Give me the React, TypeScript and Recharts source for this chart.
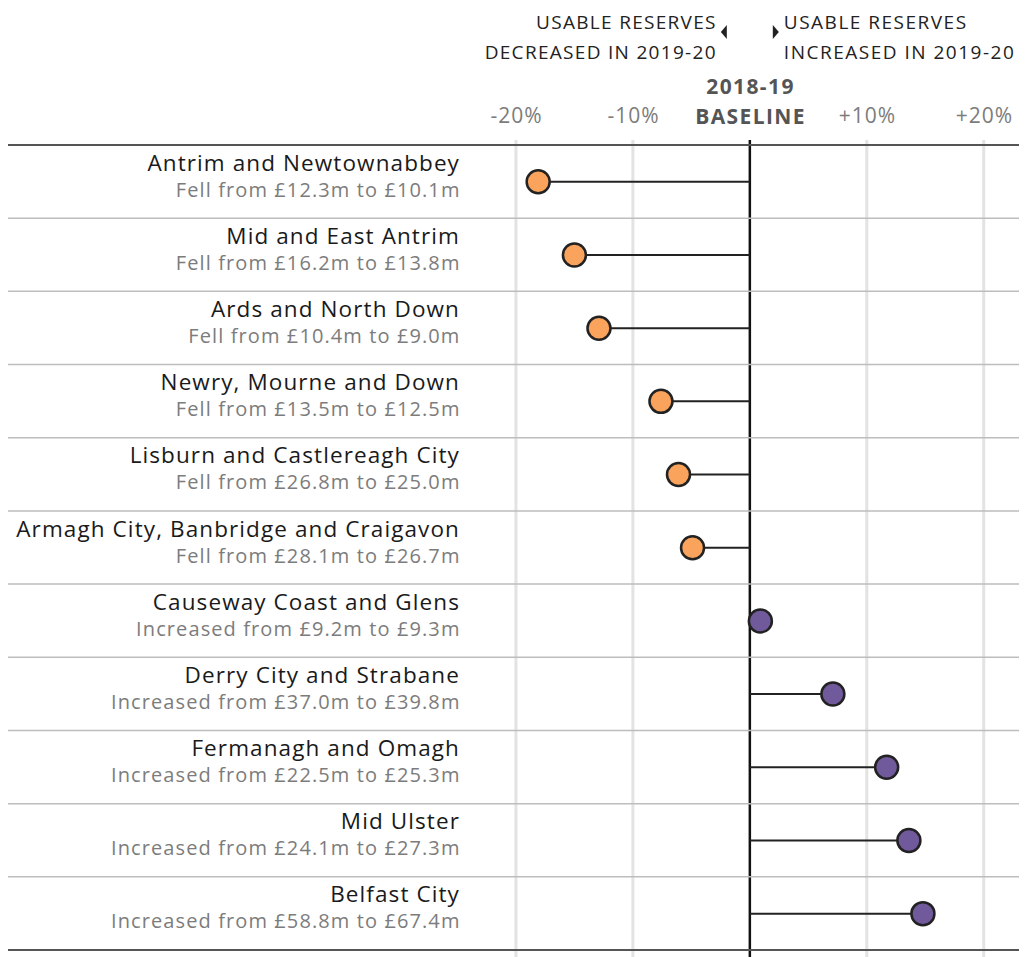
import React from "react"
import {
    ComposedChart,
    Bar,
    XAxis,
    YAxis,
    CartesianGrid
} from "recharts"

const COUNCILS = [
    "Antrim and Newtownabbey",
    "Mid and East Antrim",
    "Ards and North Down",
    "Newry, Mourne and Down",
    "Lisburn and Castlereagh City",
    "Armagh City, Banbridge and Craigavon",
    "Causeway Coast and Glens",
    "Derry City and Strabane",
    "Fermanagh and Omagh",
    "Mid Ulster",
    "Belfast City"
]
const RESERVES_2018 = ["12.3", "16.2", "10.4", "13.5", "26.8", "28.1", "9.2", "37.0", "22.5", "24.1", "58.8"]
const RESERVES_2019 = ["10.1", "13.8", "9.0", "12.5", "25.0", "26.7", "9.3", "39.8", "25.3", "27.3", "67.4"]
// % change vs 2018-19 baseline
const PCT_CHANGE = [-18.1, -15.0, -12.9, -7.6, -6.1, -4.9, 0.9, 7.1, 11.7, 13.6, 14.8]
const X_TICKS = [-20, -10, 0, 10, 20]

const W = 1019
const H = 949
const TOP = 137
const PAD_BOTTOM = 7
const LABEL_W = 460
const ROW_H = (H - TOP - PAD_BOTTOM) / COUNCILS.length

const FONT = "'Open Sans', Lato, sans-serif"
const ORANGE = "#F9A35D"
const PURPLE = "#715A9C"

const data = COUNCILS.map((name, i) => ({
    name,
    from: RESERVES_2018[i],
    to: RESERVES_2019[i],
    change: PCT_CHANGE[i]
}))

function CouncilTick({ y, payload, index }: any) {
    const row = data.find((d) => d.name === payload.value)
    if (!row) return null
    const verb = row.change < 0 ? "Fell from" : "Increased from"
    const top = y - ROW_H / 2
    const bottom = y + ROW_H / 2
    const last = index === COUNCILS.length - 1
    return (
        <g>
            {index === 0 && (
                <line x1={0} x2={W} y1={top} y2={top} stroke="#555" strokeWidth={2} />
            )}
            <line
                x1={0}
                x2={W}
                y1={bottom}
                y2={bottom}
                stroke={last ? "#555" : "#bdbdbd"}
                strokeWidth={last ? 2 : 1.5}
            />
            <text
                x={452}
                y={y - 11}
                textAnchor="end"
                fontSize={22.5}
                fill="#1a1a1a"
                fontFamily={FONT}
                letterSpacing={1.1}
            >
                {row.name}
            </text>
            <text
                x={452.5}
                y={y + 15}
                textAnchor="end"
                fontSize={20}
                fill="#7c7c7c"
                fontFamily={FONT}
                letterSpacing={1.1}
            >
                {`${verb} £${row.from}m to £${row.to}m`}
            </text>
        </g>
    )
}

function PctTick({ x, payload }: any) {
    const v = payload.value
    const tickLine = (
        <line
            x1={x}
            x2={x}
            y1={TOP - 5}
            y2={TOP}
            stroke={v === 0 ? "#111" : "#e3e3e3"}
            strokeWidth={v === 0 ? 2.5 : 3}
        />
    )
    if (v !== 0) {
        return (
            <g>
                {tickLine}
                <text x={x + 0.6} y={115} textAnchor="middle" fontSize={21} fill="#7c7c7c" fontFamily={FONT} letterSpacing={1}>
                    {v > 0 ? `+${v}%` : `${v}%`}
                </text>
            </g>
        )
    }
    return (
        <g fontFamily={FONT}>
            {tickLine}
            <text x={x + 0.7} y={86} textAnchor="middle" fontSize={21} fontWeight={700} fill="#555" letterSpacing={1.4}>
                2018-19
            </text>
            <text x={x + 0.7} y={116} textAnchor="middle" fontSize={21} fontWeight={700} fill="#555" letterSpacing={1.4}>
                BASELINE
            </text>
            <text x={x - 33} textAnchor="end" fontSize={19} fill="#222" letterSpacing={1.3}>
                <tspan x={x - 33} y={21}>USABLE RESERVES</tspan>
                <tspan x={x - 33} y={51}>DECREASED IN 2019-20</tspan>
            </text>
            <path d={`M ${x - 29} ${24} L ${x - 23} ${17} L ${x - 23} ${31} Z`} fill="#222" />
            <text x={x + 34} textAnchor="start" fontSize={19} fill="#222" letterSpacing={1.5}>
                <tspan x={x + 34} y={21}>USABLE RESERVES</tspan>
                <tspan x={x + 34} y={51}>INCREASED IN 2019-20</tspan>
            </text>
            <path d={`M ${x + 29} ${24} L ${x + 23} ${17} L ${x + 23} ${31} Z`} fill="#222" />
        </g>
    )
}

function Lollipop(props: any) {
    const { x, y, width, height, payload } = props
    const a = x
    const b = x + width
    const cy = y + height / 2
    const neg = payload.change < 0
    const dotX = neg ? Math.min(a, b) : Math.max(a, b)
    const baseX = neg ? Math.max(a, b) : Math.min(a, b)
    return (
        <g>
            <line x1={baseX} x2={dotX} y1={cy} y2={cy} stroke="#222" strokeWidth={2} />
            <circle
                cx={dotX}
                cy={cy}
                r={11.5}
                fill={neg ? ORANGE : PURPLE}
                stroke="#222"
                strokeWidth={2.5}
            />
        </g>
    )
}

function GridLine(props: any) {
    const { x1, x2, y1, y2, index } = props
    // skip the plot's left edge
    if (x1 < LABEL_W + 2) return <g />
    const zero = index === 2
    return (
        <line
            x1={x1}
            x2={x2}
            y1={y1}
            y2={y2}
            stroke={zero ? "#111" : "#e3e3e3"}
            strokeWidth={zero ? 2.5 : 3}
        />
    )
}

export default function App() {
    return (
        <div style={{ fontFamily: FONT }}>
            <ComposedChart
                width={W}
                height={H}
                data={data}
                layout="vertical"
                margin={{ top: 0, right: 0, bottom: 0, left: 0 }}
            >
                <CartesianGrid horizontal={false} vertical={GridLine} />
                <XAxis
                    type="number"
                    orientation="top"
                    height={TOP}
                    domain={[-24.1, 23.7]}
                    ticks={X_TICKS}
                    axisLine={false}
                    tickLine={false}
                    tick={PctTick}
                    allowDataOverflow
                />
                <YAxis
                    type="category"
                    dataKey="name"
                    width={LABEL_W}
                    axisLine={false}
                    tickLine={false}
                    interval={0}
                    tick={CouncilTick}
                    padding={{ top: 0, bottom: PAD_BOTTOM }}
                />
                <Bar dataKey="change" shape={Lollipop} isAnimationActive={false} />
            </ComposedChart>
        </div>
    )
}
